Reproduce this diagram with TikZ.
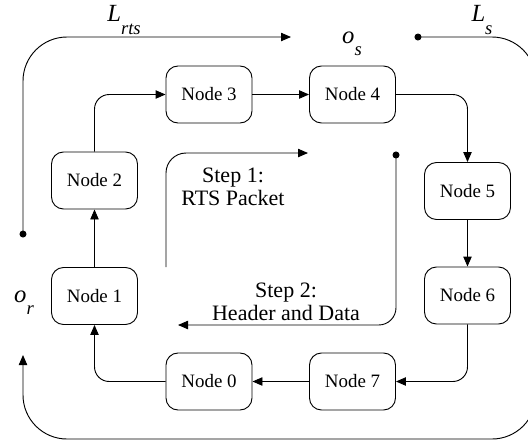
\documentclass[tikz,border=0pt]{standalone}
\usepackage{fontspec}
\setmainfont{Liberation Serif}
\usetikzlibrary{arrows.meta}

\newcommand{\looplabel}[2]{\textit{#1}\raisebox{-0.5em}{\fontsize{14}{14}\selectfont\textit{#2}}}

\begin{document}
\begin{tikzpicture}[
    x=0.75pt, y=-0.75pt,
    netnode/.style={rectangle, draw, rounded corners=9pt, minimum width=64.5pt, minimum height=42.75pt, inner sep=0pt, line width=0.7pt, font=\fontsize{14.2}{17}\selectfont},
    steptext/.style={align=center, font=\fontsize{16.5}{17.25}\selectfont},
    looptext/.style={inner sep=0pt, font=\fontsize{18.5}{20}\selectfont},
    arrow/.style={-{Triangle[length=7.5pt, width=6.3pt]}, line width=0.7pt, rounded corners=11pt},
    dotarrow/.style={{Circle[length=5.2pt]}-{Triangle[length=7.5pt, width=6.3pt]}, line width=0.7pt}
]
\useasboundingbox (0,0) rectangle (528,444);

% the eight nodes of the ring
\node[netnode] (n0) at (209,381.5) {Node 0};
\node[netnode] (n1) at (94.5,296) {Node 1};
\node[netnode] (n2) at (94.5,180.5) {Node 2};
\node[netnode] (n3) at (209,94.5) {Node 3};
\node[netnode] (n4) at (352.5,94.5) {Node 4};
\node[netnode] (n5) at (467.5,191) {Node 5};
\node[netnode] (n6) at (467.5,295.5) {Node 6};
\node[netnode] (n7) at (352.5,381.5) {Node 7};

% links between the nodes
\draw[arrow] (n1) -- (n2);
\draw[arrow] (n2) |- (n3);
\draw[arrow] (n3) -- (n4);
\draw[arrow] (n4) -| (n5);
\draw[arrow] (n5) -- (n6);
\draw[arrow] (n6) |- (n7);
\draw[arrow] (n7) -- (n0);
\draw[arrow] (n0) -| (n1);

% the two steps inside the ring
\node[steptext] (step1) at (233,187) {Step 1:\\RTS Packet};
\node[steptext] (step2) at (286,302) {Step 2:\\Header and Data};
\coordinate (s1start) at (166,267);
\coordinate (s1end) at (308,153);
\coordinate (s2start) at (396,151.5);
\coordinate (s2end) at (178,325);
\draw[arrow, rounded corners=15pt] (s1start) |- (s1end);
\draw[dotarrow, rounded corners=13pt] (s2start) |- (s2end);

% outer loop
\coordinate (rtsstart) at (23,237.5);
\coordinate (rtsend) at (291,37);
\coordinate (sstart) at (414.5,37);
\coordinate (scorner) at (536,439);
\coordinate (send) at (23,355);
\draw[dotarrow, rounded corners=33pt] (rtsstart) |- (rtsend);
\draw[dotarrow, rounded corners=33pt] (sstart) -| (scorner) -| (send);

% loop labels
\node[looptext] (lrts) at (124,20) {\looplabel{L}{rts}};
\node[looptext] (ls) at (482,20) {\looplabel{L}{s}};
\node[looptext] (os) at (352,44) {\looplabel{o}{s}};
\node[looptext] (or) at (24,303) {\looplabel{o}{r}};

\end{tikzpicture}
\end{document}
